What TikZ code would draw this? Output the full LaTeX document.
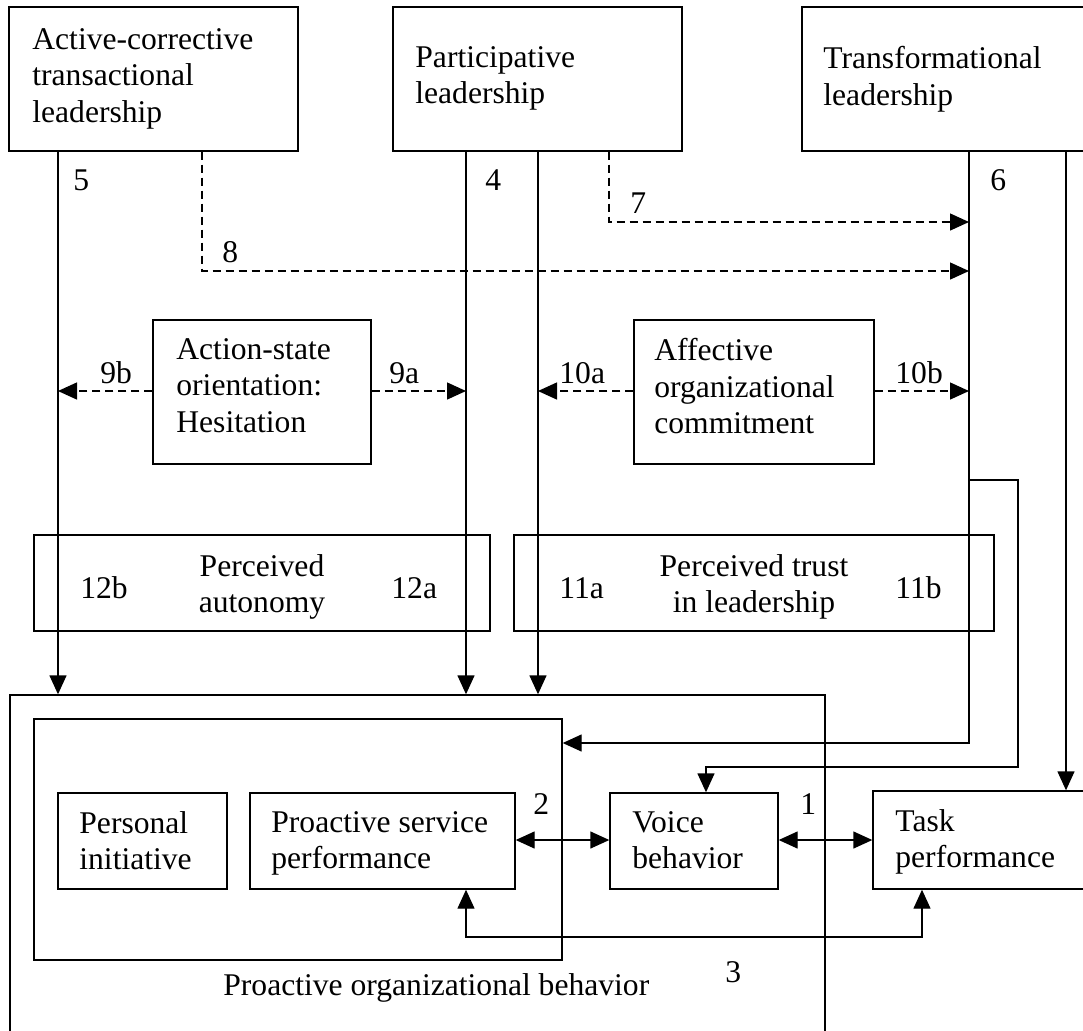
\documentclass[tikz,border=0pt]{standalone}
\usepackage{fontspec}
\setmainfont{Liberation Serif}
\usetikzlibrary{arrows.meta,fit}
\begin{document}
\begin{tikzpicture}[x=0.5pt,y=-0.5pt,
  frame/.style={draw, line width=0.7pt, inner sep=0pt},
  txt/.style={font=\fontsize{15.8pt}{18.2pt}\selectfont, inner sep=0pt, align=left, anchor=north west},
  ctxt/.style={font=\fontsize{15.8pt}{18.2pt}\selectfont, inner sep=0pt, align=center, anchor=north},
  num/.style={font=\fontsize{15.8pt}{18.2pt}\selectfont, inner sep=0pt, anchor=base west},
  link/.style={line width=0.7pt},
  tip/.style={-{Triangle[length=9.5pt,width=8.5pt]}},
  twotip/.style={{Triangle[length=9.5pt,width=8.5pt]}-{Triangle[length=9.5pt,width=8.5pt]}},
  dashlink/.style={link, dash pattern=on 4pt off 2.5pt},
]
\useasboundingbox (0,0) rectangle (1083,1030);
\fill[white] (0,0) rectangle (1083,1030);

% leadership boxes
\node[frame, fit={(9,7) (298,151)}] (A) {};
\node[frame, fit={(393,7) (682,151)}] (P) {};
\node[frame, fit={(802,7) (1095,151)}] (T) {};
\node[txt] (tA) at (32,28) {Active-corrective\\transactional\\leadership};
\node[txt] (tP) at (415,46) {Participative\\leadership};
\node[txt] (tT) at (823,46) {Transformational\\leadership};

% moderators
\node[frame, fit={(153,320) (371,464)}] (H) {};
\node[frame, fit={(634,320) (874,464)}] (C) {};
\node[txt] (tH) at (176,338) {Action-state\\orientation:\\Hesitation};
\node[txt] (tC) at (654,338) {Affective\\organizational\\commitment};

% mediators
\node[frame, fit={(34,535) (490,631)}] (PA) {};
\node[frame, fit={(514,535) (994,631)}] (TR) {};
\node[ctxt] (tPA) at (262,554) {Perceived\\autonomy};
\node[ctxt] (tTR) at (754,554) {Perceived trust\\in leadership};

% outcomes
\node[frame, fit={(10,695) (825,1045)}] (POB) {};
\node[frame, fit={(34,719) (562,960)}] (IN) {};
\node[frame, fit={(58,793) (227,889)}] (PI) {};
\node[frame, fit={(250,793) (515,889)}] (PSP) {};
\node[frame, fit={(610,793) (778,889)}] (V) {};
\node[frame, fit={(873,791) (1095,889)}] (TP) {};
\node[txt] (tPI) at (79,811) {Personal\\initiative};
\node[txt] (tPSP) at (271,811) {Proactive service\\performance};
\node[txt] (tV) at (632,811) {Voice\\behavior};
\node[txt] (tTP) at (895,809) {Task\\performance};
\node[num] (tPOB) at (223,995) {Proactive organizational behavior};

% path labels
\node[num] (n5) at (73,190) {5};
\node[num] (n4) at (485,190) {4};
\node[num] (n6) at (990,190) {6};
\node[num] (n7) at (630,213) {7};
\node[num] (n8) at (222,262) {8};
\node[num] (n9b) at (100,383) {9b};
\node[num] (n9a) at (389,383) {9a};
\node[num] (n10a) at (559,383) {10a};
\node[num] (n10b) at (895,383) {10b};
\node[num] (n12b) at (80,598) {12b};
\node[num] (n12a) at (391,598) {12a};
\node[num] (n11a) at (559,598) {11a};
\node[num] (n11b) at (895,598) {11b};
\node[num] (n2) at (533,814) {2};
\node[num] (n1) at (800,814) {1};
\node[num] (n3) at (725,982) {3};

% routing points
\coordinate (x5) at (58,0);
\coordinate (x4) at (466,0);
\coordinate (x4b) at (538,0);
\coordinate (k6) at (969,743);
\coordinate (x7) at (1066,0);
\coordinate (d7) at (609,222);
\coordinate (d8) at (202,271);
\coordinate (ym) at (0,391);
\coordinate (yo) at (0,840);
\coordinate (s1) at (969,480);
\coordinate (s2) at (1018,480);
\coordinate (s3) at (1018,767);
\coordinate (s4) at (706,767);
\coordinate (b1) at (466,937);
\coordinate (b2) at (922,937);

% direct effects
\draw[link, tip] (A.south -| x5) -- (POB.north -| x5);
\draw[link, tip] (P.south -| x4) -- (POB.north -| x4);
\draw[link, tip] (P.south -| x4b) -- (POB.north -| x4b);
\draw[link, tip] (T.south -| k6) -- (k6) -- (IN.east |- k6);
\draw[link, tip] (s1) -- (s2) -- (s3) -- (s4) -- (V.north -| s4);
\draw[link, tip] (T.south -| x7) -- (TP.north -| x7);

% leadership interactions
\draw[dashlink, tip] (P.south -| d7) -- (d7) -- (d7 -| k6);
\draw[dashlink, tip] (A.south -| d8) -- (d8) -- (d8 -| k6);

% moderating effects
\draw[dashlink, tip] (H.west |- ym) -- (x5 |- ym);
\draw[dashlink, tip] (H.east |- ym) -- (x4 |- ym);
\draw[dashlink, tip] (C.west |- ym) -- (x4b |- ym);
\draw[dashlink, tip] (C.east |- ym) -- (k6 |- ym);

% relations among outcomes
\draw[link, twotip] (PSP.east |- yo) -- (V.west |- yo);
\draw[link, twotip] (V.east |- yo) -- (TP.west |- yo);
\draw[link, twotip] (PSP.south -| b1) -- (b1) -- (b2) -- (TP.south -| b2);
\end{tikzpicture}
\end{document}
